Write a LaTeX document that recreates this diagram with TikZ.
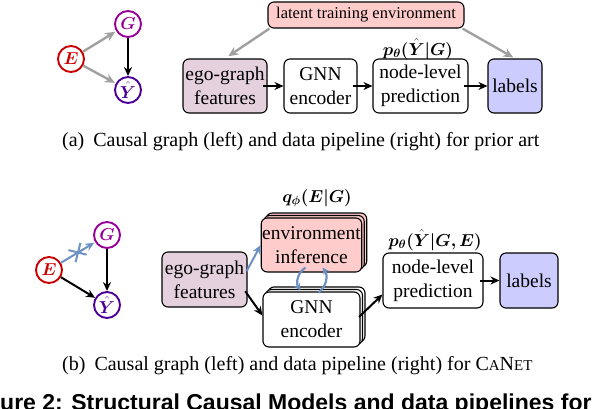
\documentclass[tikz,border=0pt]{standalone}
\usepackage{fontspec}
\usepackage{bm}
\setmainfont{Liberation Serif}
\newfontfamily\capfont{Liberation Serif}
\newfontfamily\boldsans{Liberation Sans}
\usetikzlibrary{arrows.meta,shadows,shapes.misc,calc}
\definecolor{pinkfill}{RGB}{255,204,204}
\definecolor{mauve}{RGB}{229,208,222}
\definecolor{bluefill}{RGB}{204,204,255}
\definecolor{grayarr}{RGB}{160,160,160}
\definecolor{bluearr}{RGB}{110,145,195}
\definecolor{ered}{RGB}{204,0,0}
\definecolor{gpurple}{RGB}{153,0,153}
\definecolor{yindigo}{RGB}{76,0,153}
\newcommand{\ptA}{$\bm{p_{\theta}(\hat{Y}\vert G)}$}
\newcommand{\ptB}{$\bm{p_{\theta}(\hat{Y}\vert G,E)}$}
\newcommand{\qph}{$\bm{q_{\phi}(E\vert G)}$}
\tikzset{
  box/.style={draw=black, line width=1.1pt, rounded corners=6pt, align=center, inner sep=1pt, font=\fontsize{19.5}{24}\selectfont},
  stackbox/.style={double copy shadow={shadow xshift=2.5pt, shadow yshift=2.5pt}},
  var/.style={circle, line width=1.9pt, minimum size=26pt, inner sep=0pt, fill=white, font=\fontsize{17}{20}\selectfont},
  karr/.style={-{Stealth[length=9pt,width=8pt]}, line width=2pt, draw=black},
  garr/.style={-{Stealth[length=10pt,width=9pt]}, line width=2.4pt, draw=grayarr},
  barr/.style={-{Stealth[length=9pt,width=8pt]}, line width=2pt, draw=bluearr},
  sbarr/.style={-{Stealth[length=7pt,width=7pt]}, line width=2.2pt, draw=bluearr},
  mlabel/.style={font=\fontsize{17.5}{20}\selectfont, inner sep=0pt},
  caption/.style={anchor=west, inner sep=0pt, font=\capfont\fontsize{20}{23}\selectfont}
}
\begin{document}
\begin{tikzpicture}[x=1pt,y=-1pt]
\useasboundingbox (0,0) rectangle (594,408);

% ---------- (a) causal graph ----------
\node[var, draw=ered, text=ered] (E1) at (71,59) {$\bm{E}$};
\node[var, draw=gpurple, text=gpurple] (G1) at (128,24) {$\bm{G}$};
\node[var, draw=yindigo, text=yindigo] (Y1) at (128,90) {$\bm{\hat{Y}}$};
\draw[garr, shorten >=1pt] (E1) -- (G1);
\draw[garr, shorten >=1pt] (E1) -- (Y1);
\draw[karr] (G1) -- (Y1);

% ---------- (a) pipeline ----------
\node[box, fill=pinkfill, minimum width=196pt, minimum height=26pt, font=\fontsize{16.5}{20}\selectfont] (latent) at (366,15) {latent training environment};
\node[box, fill=mauve, minimum width=84pt, minimum height=54pt] (ego1) at (225,86) {ego-graph\\features};
\node[box, fill=white, minimum width=73pt, minimum height=54pt] (gnn1) at (320.5,86) {GNN\\encoder};
\node[box, fill=white, minimum width=95pt, minimum height=54pt] (pred1) at (420.5,86) {node-level\\prediction};
\node[box, fill=bluefill, minimum width=54pt, minimum height=54pt] (lab1) at (515,86) {labels};
\node[mlabel] (pt1) at (418,49) {\ptA};
\draw[karr, shorten <=-5pt] (ego1.east) -- (gnn1.west);
\draw[karr, shorten <=-5pt] (gnn1.east) -- (pred1.west);
\draw[karr, shorten <=-5pt] (pred1.east) -- (lab1.west);
\draw[garr, shorten >=4pt] ([xshift=2pt]latent.south west) -- (ego1.north);
\draw[garr, shorten >=2pt] ([xshift=-2pt]latent.south east) -- (lab1.north);

\node[caption] (capa) at (62,142) {(a)\hspace{0.45em}Causal graph (left) and data pipeline (right) for prior art};

% ---------- (b) causal graph ----------
\node[var, draw=ered, text=ered] (E2) at (49,270) {$\bm{E}$};
\node[var, draw=gpurple, text=gpurple] (G2) at (107,235) {$\bm{G}$};
\node[var, draw=yindigo, text=yindigo] (Y2) at (107,305) {$\bm{\hat{Y}}$};
\draw[barr, shorten >=1pt] (E2) -- node[sloped, cross out, draw=bluearr, line width=2pt, minimum size=12pt, inner sep=0pt] (cx) {} (G2);
\draw[karr] (E2) -- (Y2);
\draw[karr] (G2) -- (Y2);

% ---------- (b) pipeline ----------
\node[box, fill=mauve, minimum width=85pt, minimum height=55pt] (ego2) at (204.5,279.5) {ego-graph\\features};
\node[box, stackbox, fill=pinkfill, minimum width=97pt, minimum height=54pt] (env) at (311.5,245) {environment\\inference};
\node[box, stackbox, fill=white, minimum width=97pt, minimum height=55pt] (gnn2) at (311.5,319.5) {GNN\\encoder};
\node[box, fill=white, minimum width=100pt, minimum height=55pt] (pred2) at (433,280.5) {node-level\\prediction};
\node[box, fill=bluefill, minimum width=58pt, minimum height=55pt] (lab2) at (529,280.5) {labels};
\node[mlabel] (qphi) at (317,198) {\qph};
\node[mlabel] (pt2) at (435,240) {\ptB};

\draw[barr, shorten <=-2pt] ([yshift=10pt]ego2.east) -- (env.west);
\draw[karr, shorten <=-4pt] ([yshift=-15pt]ego2.east) -- ([yshift=4pt]gnn2.west);
\draw[karr, shorten <=-2pt] ([yshift=4pt]gnn2.east) -- ([yshift=-14pt]pred2.west);
\draw[karr, shorten <=-4pt] (pred2.east) -- (lab2.west);
\draw[sbarr] ([xshift=-6pt,yshift=5pt]env.south) to[bend right=45] ([xshift=-11pt,yshift=1pt]gnn2.north);
\draw[sbarr] ([xshift=7pt,yshift=-1pt]gnn2.north) to[bend right=45] ([xshift=11pt,yshift=5pt]env.south);

\node[caption] (capb) at (62,366) {(b)\hspace{0.45em}Causal graph (left) and data pipeline (right) for C{\fontsize{15}{17}\selectfont A}N{\fontsize{15}{17}\selectfont ET}};

\begin{scope}
\clip (0,0) rectangle (594,408);
\node[anchor=base west, inner sep=0pt, font=\boldsans\bfseries\fontsize{23}{27}\selectfont] (fig) at (0,410) {ure 2: Structural Causal Models and data pipelines for};
\end{scope}
\end{tikzpicture}
\end{document}
